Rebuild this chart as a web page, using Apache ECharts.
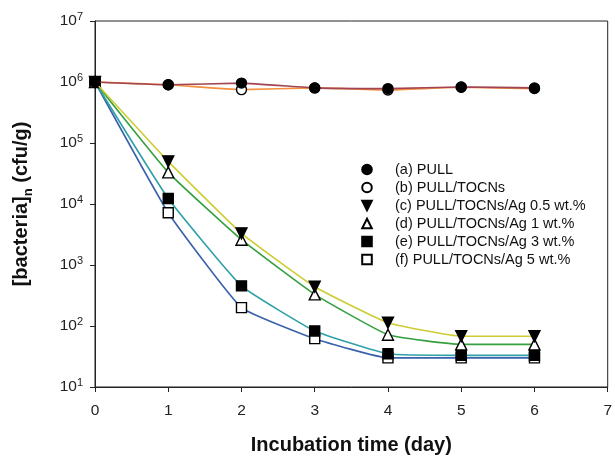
<!DOCTYPE html>
<html>
<head>
<meta charset="utf-8">
<script src="https://cdn.jsdelivr.net/npm/echarts@6/dist/echarts.min.js"></script>
<style>html,body{margin:0;padding:0;background:#fff;}#c{width:615px;height:460px;}</style>
</head>
<body>
<div id="c"></div>
<script>
var days = [0, 1, 2, 3, 4, 5, 6];
var seriesNames = ['(a) PULL', '(b) PULL/TOCNs', '(c) PULL/TOCNs/Ag 0.5 wt.%', '(d) PULL/TOCNs/Ag 1 wt.%', '(e) PULL/TOCNs/Ag 3 wt.%', '(f) PULL/TOCNs/Ag 5 wt.%'];
var pull      = [1e6, 9.0e5, 9.6e5, 8.0e5, 7.8e5, 8.3e5, 8.0e5];
var pullTocn  = [1e6, 9.0e5, 7.5e5, 8.0e5, 7.4e5, 8.2e5, 7.8e5];
var ag05      = [1e6, 5.0e4, 3300, 440, 113, 68, 68];
var ag1       = [1e6, 3.3e4, 2600, 330, 72, 50, 50];
var ag3       = [1e6, 1.23e4, 455, 83, 35, 33, 33];
var ag5       = [1e6, 7200, 200, 62, 30, 30, 30];
var yTicks = [1, 2, 3, 4, 5, 6, 7];

var allData = [pull, pullTocn, ag05, ag1, ag3, ag5];
var lineColors = ['#a24552', '#f59040', '#cccc33', '#35a040', '#30a0a8', '#3a62ac'];
var symbols = ['circle', 'circle', 'triangle', 'triangle', 'rect', 'rect'];
var rotates = [0, 0, 180, 0, 0, 0];
var filled = [true, false, true, false, true, false];
var sizes = [10, 10, 11, 11, 10, 10];
var FONT = 'Liberation Sans, Arial, sans-serif';

function pairs(arr) { return days.map(function (d, i) { return [d, arr[i]]; }); }

var series = allData.map(function (arr, k) {
  return {
    name: seriesNames[k],
    type: 'line',
    data: pairs(arr),
    smooth: 0.12,
    symbol: symbols[k],
    symbolRotate: rotates[k],
    symbolSize: sizes[k],
    z: 10 - k,
    lineStyle: { color: lineColors[k], width: 1.6 },
    itemStyle: {
      color: filled[k] ? '#000' : '#fff',
      borderColor: '#000',
      borderWidth: 1.4
    }
  };
});

var chart = echarts.init(document.getElementById('c'));
chart.setOption({
  animation: false,
  backgroundColor: '#fff',
  textStyle: { fontFamily: FONT },
  grid: { left: 95, right: 5, top: 21, bottom: 69, show: true, borderColor: '#222', borderWidth: 1 },
  legend: {
    orient: 'vertical',
    left: 338,
    top: 157,
    itemWidth: 46,
    itemHeight: 12,
    itemGap: 3,
    lineStyle: { opacity: 0 },
    textStyle: { fontSize: 14.5, lineHeight: 14.8, color: '#111', fontFamily: FONT },
    data: seriesNames
  },
  xAxis: {
    type: 'value',
    min: 0, max: 7, interval: 1,
    name: 'Incubation time (day)',
    nameLocation: 'middle',
    nameGap: 48,
    nameTextStyle: { fontSize: 20, fontWeight: 'bold', color: '#111', fontFamily: FONT },
    axisLine: { lineStyle: { color: '#222', width: 1 } },
    axisTick: { show: true, length: 5, lineStyle: { color: '#222' } },
    axisLabel: { fontSize: 15.5, color: '#222', margin: 16 },
    splitLine: { show: false }
  },
  yAxis: {
    type: 'log',
    logBase: 10,
    min: 10, max: 1e7,
    name: '{b|[bacteria]}{sub|n}{b| (cfu/g)}',
    nameLocation: 'middle',
    nameGap: 60,
    nameTextStyle: {
      rich: {
        b: { fontSize: 20, fontWeight: 'bold', color: '#111', fontFamily: FONT },
        sub: { fontSize: 13, fontWeight: 'bold', color: '#111', verticalAlign: 'bottom', padding: [14, 0, 0, 0], fontFamily: FONT }
      }
    },
    axisLine: { show: true, lineStyle: { color: '#222', width: 1 } },
    axisTick: { show: true, length: 5, lineStyle: { color: '#222' } },
    axisLabel: {
      margin: 12,
      formatter: function (v) {
        var e = Math.round(Math.log10(v));
        if (yTicks.indexOf(e) < 0) return '';
        return '{b|10}{s|' + e + '}';
      },
      rich: {
        b: { fontSize: 15.5, color: '#222', fontFamily: FONT },
        s: { fontSize: 11, color: '#222', verticalAlign: 'top', padding: [0, 0, 9, 0], fontFamily: FONT }
      }
    },
    splitLine: { show: false }
  },
  series: series
});
</script>
</body>
</html>
